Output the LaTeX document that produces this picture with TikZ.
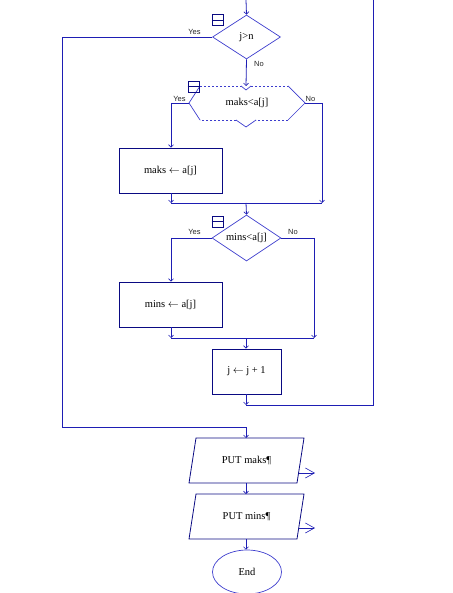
\documentclass[tikz,border=0pt]{standalone}
\usepackage{fontspec}
\setmainfont{Liberation Serif}
\newfontfamily\lblfont{Liberation Sans}
\usetikzlibrary{arrows.meta,shapes.geometric}
\definecolor{boxcol}{RGB}{10,10,130}
\definecolor{linecol}{RGB}{30,30,180}
\definecolor{diacol}{RGB}{60,60,205}
\begin{document}
\begin{tikzpicture}[x=1pt,y=-1pt,
  every node/.style={font=\fontsize{10.5}{12}\selectfont},
  conn/.style={draw=linecol,line width=0.8pt},
  arr/.style={conn,-{Straight Barb[length=2.5pt,width=5pt,line width=0.6pt]}},
  outarr/.style={conn,-{Straight Barb[length=9pt,width=10pt,line width=0.6pt]}},
  procbox/.style={draw=boxcol,line width=0.8pt,rectangle,inner sep=0pt},
  decision/.style={draw=diacol,line width=0.7pt,diamond,inner sep=0pt},
  shapeline/.style={draw=diacol,line width=0.7pt},
  iobox/.style={draw=boxcol,line width=0.8pt},
  lbl/.style={font=\lblfont\fontsize{7.5}{8}\selectfont,text=black!85,inner sep=0pt},
  icon/.style={draw=boxcol,line width=0.8pt,rectangle,minimum width=11pt,minimum height=11pt,inner sep=0pt}
]
\useasboundingbox (0,0) rectangle (452,593);

% decision j>n
\node[decision,minimum width=68pt,minimum height=44pt,aspect=1.55] (d1) at (246.5,37) {j>n};
\node[icon] (i1) at (218,20) {};
\draw[boxcol,line width=0.8pt] (i1.west) -- (i1.east);

% hexagon maks<a[j]
\node[inner sep=0pt,minimum width=116pt,minimum height=34pt] (h) at (247,103) {maks<a[j]};
\coordinate (hl) at (189,103);
\coordinate (hr) at (305,103);
\draw[shapeline] (hl) -- (200,86);
\draw[shapeline,dash pattern=on 2pt off 2pt] (200,86) -- (241,86);
\draw[shapeline] (241,86) -- (246,90) -- (251,86);
\draw[shapeline,dash pattern=on 2pt off 2pt] (251,86) -- (288,86);
\draw[shapeline] (288,86) -- (hr) -- (288,120);
\draw[shapeline,dash pattern=on 2pt off 2pt] (288,120) -- (256,120);
\draw[shapeline] (256,120) -- (246,127) -- (236,120);
\draw[shapeline,dash pattern=on 2pt off 2pt] (236,120) -- (200,120);
\draw[shapeline] (200,120) -- (hl);
\coordinate (htop) at (246,86);
\node[icon] (i2) at (193.5,86.5) {};
\draw[boxcol,line width=0.8pt] (i2.west) -- (i2.east);

% box maks <- a[j]
\node[procbox,minimum width=103pt,minimum height=45pt] (b1) at (170.5,170.5) {maks $\leftarrow$ a[j]};

% decision mins<a[j]
\node[decision,minimum width=69pt,minimum height=46pt,aspect=1.5] (d2) at (246.5,238) {mins<a[j]};
\node[icon] (i3) at (217.5,221.5) {};
\draw[boxcol,line width=0.8pt] (i3.west) -- (i3.east);

% box mins <- a[j]
\node[procbox,minimum width=103pt,minimum height=45pt] (b2) at (170.5,304.5) {mins $\leftarrow$ a[j]};

% box j <- j+1
\node[procbox,minimum width=69pt,minimum height=45pt] (b3) at (246.5,371.5) {j $\leftarrow$ j + 1};

% output boxes
\node[inner sep=0pt,minimum width=100pt,minimum height=45pt] (p1) at (246.5,460.5) {PUT maks¶};
\draw[iobox] (196,438) -- (304,438) -- (297,483) -- (189,483) -- cycle;
\node[inner sep=0pt,minimum width=100pt,minimum height=45pt] (p2) at (246.5,516.5) {PUT mins¶};
\draw[iobox] (196,494) -- (304,494) -- (297,539) -- (189,539) -- cycle;

% end
\node[draw=diacol,line width=0.7pt,ellipse,minimum width=69pt,minimum height=44pt,inner sep=0pt] (e) at (247,572) {End};

% coordinates
\coordinate (top) at (246,0);
\coordinate (yl1) at (62,37);
\coordinate (yl2) at (62,427);
\coordinate (yl3) at (246,427);
\coordinate (hyl) at (171,103);
\coordinate (hnr) at (322,103);
\coordinate (hnr2) at (322,203);
\coordinate (m1l) at (171,203);
\coordinate (m1c) at (246,203);
\coordinate (d2l) at (171,238);
\coordinate (d2r) at (314,238);
\coordinate (d2r2) at (314,338);
\coordinate (m2l) at (171,338);
\coordinate (m2c) at (246,338);
\coordinate (lb) at (246,405);
\coordinate (lr) at (373,405);
\coordinate (lt) at (373,0);
\coordinate (p1r) at (298.5,473);
\coordinate (p1o) at (315,473);
\coordinate (p2r) at (298.5,528);
\coordinate (p2o) at (315,528);

% connectors
\draw[arr] (top) -- (d1.north);
\draw[conn] (d1.west) -- (yl1) -- (yl2) -- (yl3);
\draw[arr] (yl3) -- (246,438);
\draw[arr] (d1.south) -- (htop);
\draw[conn] (hl) -- (hyl);
\draw[arr] (hyl) -- (b1.north -| hyl);
\draw[conn] (hr) -- (hnr);
\draw[arr] (hnr) -- (hnr2);
\draw[arr] (b1.south -| m1l) -- (m1l);
\draw[conn] (m1l) -- (hnr2);
\draw[arr] (m1c) -- (d2.north);
\draw[conn] (d2.west) -- (d2l);
\draw[arr] (d2l) -- (b2.north -| d2l);
\draw[conn] (d2.east) -- (d2r);
\draw[arr] (d2r) -- (d2r2);
\draw[arr] (b2.south -| m2l) -- (m2l);
\draw[conn] (m2l) -- (d2r2);
\draw[arr] (m2c) -- (b3.north -| m2c);
\draw[arr] (b3.south -| lb) -- (lb);
\draw[conn] (lb) -- (lr) -- (lt);
\draw[arr] (246,483) -- (246,494);
\draw[arr] (246,539) -- (e.north -| lb);
\draw[outarr] (p1r) -- (p1o);
\draw[outarr] (p2r) -- (p2o);

% labels
\node[lbl] at (194.5,32) {Yes};
\node[lbl] at (259,64) {No};
\node[lbl] at (179.5,98.5) {Yes};
\node[lbl] at (310.5,98.5) {No};
\node[lbl] at (194.5,232) {Yes};
\node[lbl] at (293,232) {No};
\end{tikzpicture}
\end{document}
